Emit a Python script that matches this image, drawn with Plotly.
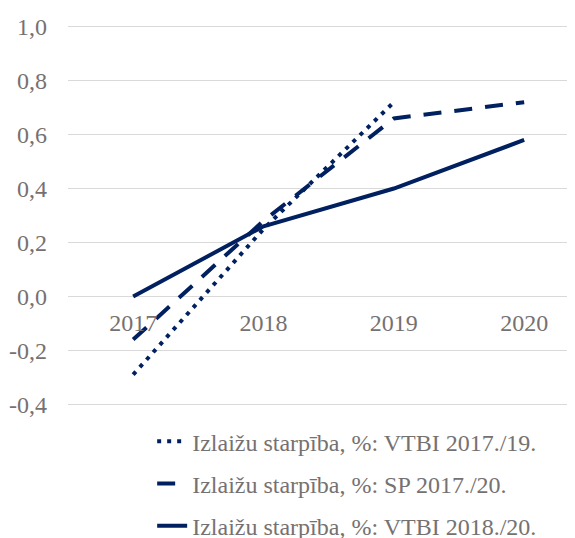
import plotly.graph_objects as go

years = ["2017", "2018", "2019", "2020"]
vtbi_1719 = [-0.29, 0.25, 0.72, None]
sp_1720 = [-0.16, 0.28, 0.66, 0.72]
vtbi_1820 = [0.0, 0.26, 0.40, 0.58]
names = [
    "Izlaižu starpība, %: VTBI 2017./19.",
    "Izlaižu starpība, %: SP 2017./20.",
    "Izlaižu starpība, %: VTBI 2018./20.",
]
ytickvals = [-0.4, -0.2, 0.0, 0.2, 0.4, 0.6, 0.8, 1.0]
yticktext = ["-0,4", "-0,2", "0,0", "0,2", "0,4", "0,6", "0,8", "1,0"]

navy = "#002060"
font_family = "Liberation Serif"
grey = "#767171"

fig = go.Figure()
fig.add_trace(go.Scatter(x=years, y=vtbi_1719, mode="lines", name=names[0],
                         line=dict(color=navy, width=4, dash="4px,6px"),
                         legendgroup="a"))
fig.add_trace(go.Scatter(x=years, y=sp_1720, mode="lines", name=names[1],
                         line=dict(color=navy, width=4, dash="18px,13px"),
                         legendgroup="b"))
fig.add_trace(go.Scatter(x=years, y=vtbi_1820, mode="lines", name=names[2],
                         line=dict(color=navy, width=4),
                         legendgroup="c"))

y_lo, y_hi = -0.41, 1.01
fig.update_layout(
    template="none",
    width=567, height=530,
    margin=dict(l=60, r=0, t=16, b=131, autoexpand=False),
    paper_bgcolor="white", plot_bgcolor="white",
    font=dict(family=font_family, size=24, color=grey),
    showlegend=True,
    legend=dict(x=0.166, y=-0.032, xanchor="left", yanchor="top",
                font=dict(family=font_family, size=24, color=grey),
                tracegroupgap=8, bgcolor="rgba(0,0,0,0)"),
    xaxis=dict(type="category", range=[-0.5, 3.39], showgrid=False,
               showline=False, zeroline=False, ticks="", automargin=False,
               anchor="free", position=(0 - y_lo) / (y_hi - y_lo),
               ticklabelstandoff=10,
               tickfont=dict(family=font_family, size=24, color=grey)),
    yaxis=dict(range=[y_lo, y_hi], tickvals=ytickvals, ticktext=yticktext,
               showgrid=True, gridcolor="#d9d9d9", gridwidth=1.3,
               zeroline=False, showline=False, ticks="", automargin=False,
               ticklabelstandoff=20,
               tickfont=dict(family=font_family, size=24, color=grey)),
)

fig.write_html("out.html")
